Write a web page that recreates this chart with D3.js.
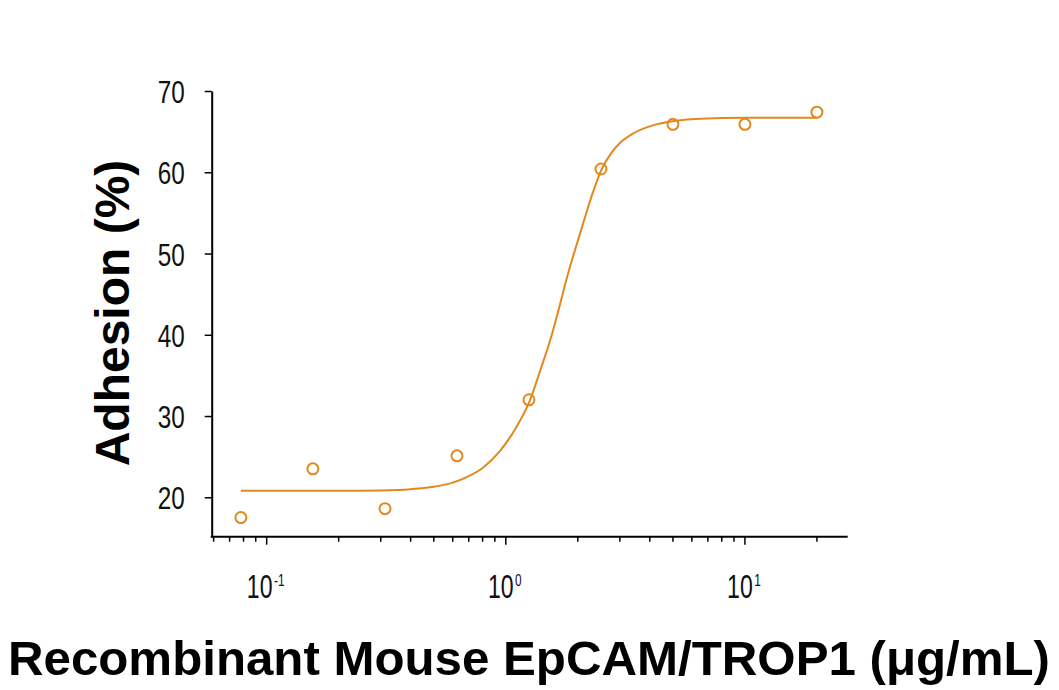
<!DOCTYPE html>
<html>
<head>
<meta charset="utf-8">
<script src="https://cdn.jsdelivr.net/npm/d3@7"></script>
<style>
  html, body { margin: 0; padding: 0; background: #fff; }
  svg { display: block; }
  .tick-num { font-family: "Liberation Sans", Arial, sans-serif; fill: #111; }
  .title { font-family: "Liberation Sans", Arial, sans-serif; font-weight: bold; fill: #000; }
</style>
</head>
<body>
<svg id="chart" width="1059" height="690"></svg>
<script>
"use strict";

// Data
const CONC = [0.078, 0.156, 0.3125, 0.625, 1.25, 2.5, 5, 10, 20]; // ug/mL
const ADHESION = [17.5, 23.5, 18.6, 25.1, 32.0, 60.4, 65.9, 65.9, 67.4]; // %
// fitted curve
const FIT_CONC = [0.078, 0.2, 0.3, 0.4, 0.5, 0.6, 0.7, 0.8, 0.946, 1.1, 1.264, 1.4, 1.532, 1.67, 1.8, 1.95, 2.11, 2.3, 2.52, 2.75, 3.0, 3.42, 4.15, 5.06, 6.5, 10, 20];
const FIT_VALS = [20.8, 20.8, 20.85, 21.0, 21.3, 21.8, 22.6, 23.6, 25.7, 28.5, 32.0, 35.8, 39.3, 43.3, 47.0, 50.5, 53.8, 57.3, 60.4, 62.3, 63.6, 64.8, 65.8, 66.3, 66.6, 66.7, 66.7];
const Y_TICKS = [20, 30, 40, 50, 60, 70];
const X_MAJOR = [0.1, 1, 10];
const X_MAJOR_EXP = ["-1", "0", "1"];
const X_TITLE = "Recombinant Mouse EpCAM/TROP1 (\u03bcg/mL)";
const Y_TITLE = "Adhesion (%)";

const ORANGE = "#e3891c";

const SVG = d3.select("#chart");

// Scales
const X_SCALE = d3.scaleLog().domain([0.0589, 26.9]).range([211.7, 847.7]);
const Y_SCALE = d3.scaleLinear().domain([15.15, 70]).range([536.7, 91]);

// Y axis
const G_Y = SVG.append("g").attr("transform", "translate(" + X_SCALE.range()[0] + ",0)");
G_Y.call(d3.axisLeft(Y_SCALE).tickValues(Y_TICKS).tickSize(7).tickSizeOuter(0).tickPadding(20));
G_Y.select(".domain").attr("stroke", "#000").attr("stroke-width", 2);
G_Y.selectAll(".tick line").attr("stroke", "#000").attr("stroke-width", 1.5);
G_Y.selectAll(".tick text")
  .attr("class", "tick-num")
  .attr("font-size", 32)
  .attr("dy", "0.36em")
  .attr("textLength", 27)
  .attr("lengthAdjust", "spacingAndGlyphs");

// X axis (minor ticks from the log scale, majors longer)
const G_X = SVG.append("g").attr("transform", "translate(0," + Y_SCALE.range()[0] + ")");
G_X.append("line")
  .attr("x1", X_SCALE.range()[0] - 1)
  .attr("x2", X_SCALE.range()[1])
  .attr("stroke", "#000")
  .attr("stroke-width", 2);

G_X.selectAll(".minor")
  .data(X_SCALE.ticks())
  .enter()
  .append("line")
  .attr("x1", function(d) { return X_SCALE(d); })
  .attr("x2", function(d) { return X_SCALE(d); })
  .attr("y1", 0)
  .attr("y2", function(d) { return X_MAJOR.indexOf(d) >= 0 ? 8 : 5; })
  .attr("stroke", "#000")
  .attr("stroke-width", 1.5);

// X tick labels: "10" with exponent, narrowed
const X_LABELS = G_X.selectAll(".xlab")
  .data(X_MAJOR)
  .enter()
  .append("text")
  .attr("class", "tick-num")
  .attr("transform", function(d) { return "translate(" + (X_SCALE(d) - 1) + ",61) scale(0.7,1)"; })
  .attr("text-anchor", "middle")
  .attr("font-size", 33);
X_LABELS.append("tspan").text("10");
X_LABELS.append("tspan")
  .attr("font-size", 17)
  .attr("dy", -12)
  .attr("dx", 2)
  .text(function(d, i) { return X_MAJOR_EXP[i]; });

// Fitted curve
const LINE = d3.line()
  .x(function(d) { return X_SCALE(d[0]); })
  .y(function(d) { return Y_SCALE(d[1]); })
  .curve(d3.curveMonotoneX);

SVG.append("path")
  .datum(d3.zip(FIT_CONC, FIT_VALS))
  .attr("d", LINE)
  .attr("fill", "none")
  .attr("stroke", ORANGE)
  .attr("stroke-width", 2);

// Data points
SVG.selectAll(".pt")
  .data(d3.zip(CONC, ADHESION))
  .enter()
  .append("circle")
  .attr("cx", function(d) { return X_SCALE(d[0]); })
  .attr("cy", function(d) { return Y_SCALE(d[1]); })
  .attr("r", 5.5)
  .attr("fill", "none")
  .attr("stroke", ORANGE)
  .attr("stroke-width", 2);

// Titles
SVG.append("text")
  .attr("class", "title")
  .attr("x", 8)
  .attr("y", 675)
  .attr("font-size", 48)
  .attr("textLength", 1042)
  .attr("lengthAdjust", "spacingAndGlyphs")
  .text(X_TITLE);

SVG.append("text")
  .attr("class", "title")
  .attr("transform", "translate(129,313) rotate(-90)")
  .attr("text-anchor", "middle")
  .attr("font-size", 48)
  .text(Y_TITLE);
</script>
</body>
</html>
